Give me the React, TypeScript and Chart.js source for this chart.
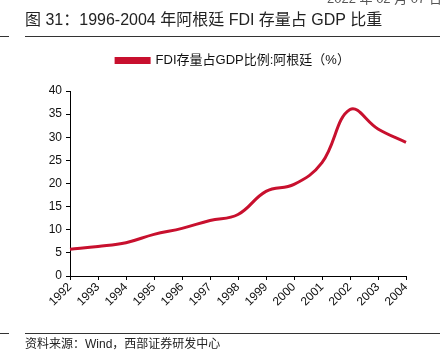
import React, { useEffect, useRef } from "react";
import { Chart, registerables } from "chart.js";

Chart.register(...registerables);

const years = ["1992", "1993", "1994", "1995", "1996", "1997", "1998", "1999", "2000", "2001", "2002", "2003", "2004"];
const fdiShare = [5.8, 6.4, 7.2, 9.0, 10.3, 12.0, 13.3, 18.3, 19.8, 24.5, 36.0, 31.8, 28.9];
const yTicks = [0, 5, 10, 15, 20, 25, 30, 35, 40];
const seriesLabel = "FDI存量占GDP比例:阿根廷（%）";
const titleText = "图 31：1996-2004 年阿根廷 FDI 存量占 GDP 比重";
const sourceText = "资料来源：Wind，西部证券研发中心";
const dateText = "2022 年 02 月 07 日";

const FONT = "'Liberation Sans', Arial, 'Noto Sans CJK SC', sans-serif";

export default function App() {
  const ref = useRef<HTMLCanvasElement | null>(null);

  useEffect(() => {
    if (!ref.current) return;
    const legendMargin = {
      id: "legendMargin",
      beforeInit(chart: any) {
        const orig = chart.legend.fit;
        chart.legend.fit = function () {
          orig.bind(chart.legend)();
          this.height += 14;
        };
      },
      afterLayout(chart: any) {
        chart.legend.left = 60;
        chart.legend.right = 406;
      },
    };
    const chart = new Chart(ref.current, {
      type: "line",
      data: {
        labels: years,
        datasets: [
          {
            label: seriesLabel,
            data: fdiShare,
            borderColor: "#c8102e",
            backgroundColor: "#c8102e",
            borderWidth: 3,
            pointRadius: 0,
            tension: 0.4,
          },
        ],
      },
      options: {
        responsive: false,
        animation: false,
        layout: { padding: { left: 0, right: 42, top: 44, bottom: 0 } },
        plugins: {
          legend: {
            display: true,
            position: "top",
            labels: {
              boxWidth: 33,
              boxHeight: 4,
              color: "#111",
              font: { family: FONT, size: 13 },
              padding: 10,
            },
          },
          tooltip: { enabled: false },
        },
        scales: {
          x: {
            offset: false,
            grid: { display: true, drawOnChartArea: false, color: "#000", tickLength: 4 },
            border: { display: true, color: "#000", width: 1 },
            ticks: {
              color: "#111",
              font: { family: FONT, size: 12 },
              maxRotation: 45,
              minRotation: 45,
              padding: 0,
              autoSkip: false,
            },
            afterFit(scale: any) {
              scale.height = 82;
            },
          },
          y: {
            min: 0,
            max: 40,
            afterBuildTicks(scale: any) {
              scale.ticks = yTicks.map((v) => ({ value: v }));
            },
            grid: { display: true, drawOnChartArea: false, color: "#000", tickLength: 4 },
            border: { display: true, color: "#000", width: 1 },
            ticks: {
              color: "#111",
              font: { family: FONT, size: 12 },
              padding: 4,
            },
            afterFit(scale: any) {
              scale.width = 70;
            },
          },
        },
      },
      plugins: [legendMargin],
    } as any);
    return () => chart.destroy();
  }, []);

  return (
    <div style={{ position: "fixed", left: 0, top: 0, width: 448, height: 358, background: "#fff", overflow: "hidden", fontFamily: FONT }}>
      <canvas ref={ref} width={448} height={358} style={{ position: "absolute", left: 0, top: 0 }} />
      <div style={{ position: "absolute", left: 327, top: -8, fontSize: 13, lineHeight: "13px", color: "#555", whiteSpace: "nowrap", zIndex: 2 }}>{dateText}</div>
      <div style={{ position: "absolute", left: 25, top: 11, fontSize: 16, lineHeight: "18px", color: "#222", whiteSpace: "nowrap" }}>{titleText}</div>
      <div style={{ position: "absolute", left: 25, top: 36, width: 415, height: 1, background: "#333" }} />
      <div style={{ position: "absolute", left: 0, top: 36, width: 9, height: 1, background: "#333" }} />
      <div style={{ position: "absolute", left: 25, top: 333, width: 415, height: 1, background: "#333" }} />
      <div style={{ position: "absolute", left: 0, top: 333, width: 9, height: 1, background: "#333" }} />
      <div style={{ position: "absolute", left: 25, top: 337, fontSize: 12, lineHeight: "14px", color: "#222", whiteSpace: "nowrap" }}>{sourceText}</div>
    </div>
  );
}
